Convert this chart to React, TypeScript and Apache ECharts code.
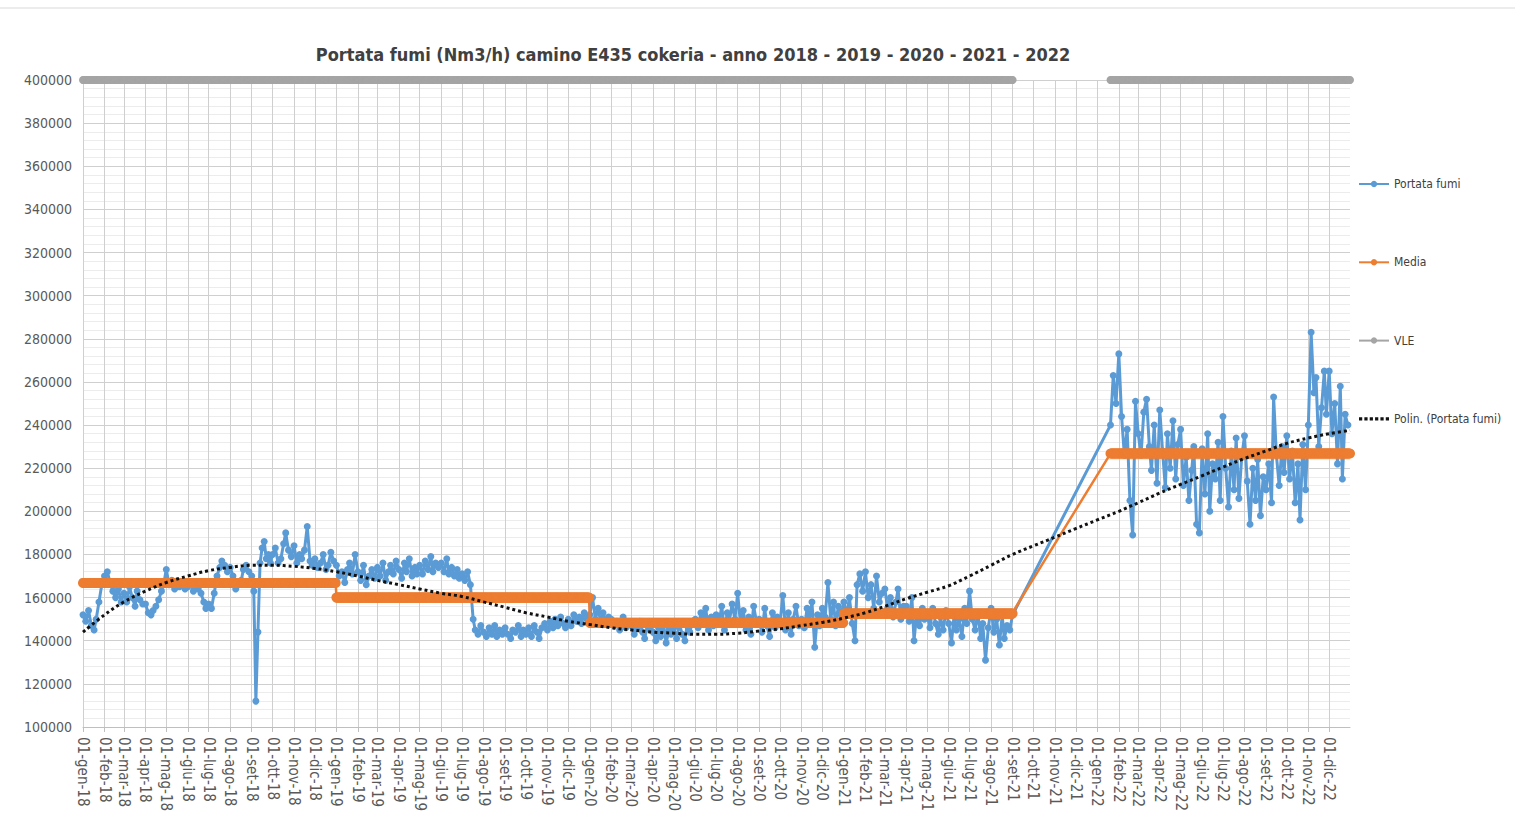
import React, { useEffect, useRef } from "react";
import * as echarts from "echarts";

const FONT = '"Liberation Sans Narrow", "DejaVu Sans Condensed", "Liberation Sans", Arial, sans-serif';
const MONTHS_IT = ["gen", "feb", "mar", "apr", "mag", "giu", "lug", "ago", "set", "ott", "nov", "dic"];
const START = Date.UTC(2018, 0, 1);
const END = Date.UTC(2022, 11, 31);
const DAY = 86400000;

const TITLE = "Portata fumi (Nm3/h) camino E435 cokeria - anno 2018 - 2019 - 2020 - 2021 - 2022";

// Portata fumi, thousands of Nm3/h, samples spread evenly through each month (Jan..Dec)
const portata2018: (number | null)[][] = [
  [152, 149, 154, 147, 145, 150, 158, 166],
  [170, 172, 167, 163, 160, 164, 158],
  [162, 158, 165, 160, 156, 163, 159, 157],
  [157, 153, 152, 154, 156, 159, 163, 166],
  [173, 166, 168, 164, 166, 165, 167, 164],
  [165, 167, 163, 166, 164, 162, 158, 155],
  [157, 155, 162, 170, 174, 177, 175, 172],
  [174, 170, 164, 166, 168, 173, 175, 172],
  [170, 163, 112, 144, 176, 183, 186, 178, 180, 176],
  [180, 183, 176, 178, 185, 190, 182, 179],
  [184, 176, 180, 178, 182, 193, 177, 175],
  [178, 174, 176, 180, 173, 175, 181, 177],
];
const portata2019: (number | null)[][] = [
  [175, 170, 172, 167, 173, 176, 171, 180],
  [172, 168, 175, 166, 170, 173, 169],
  [174, 170, 176, 168, 172, 175, 171, 177],
  [173, 169, 176, 172, 178, 170, 174, 171],
  [175, 171, 177, 173, 179, 172, 176, 174],
  [176, 172, 178, 171, 174, 170, 173, 169],
  [171, 168, 172, 166, 150, 145, 143, 147],
  [144, 142, 146, 143, 147, 142, 145, 143],
  [146, 143, 141, 145, 144, 147, 142, 145],
  [143, 146, 142, 147, 144, 141, 146, 148],
  [145, 149, 146, 150, 147, 151, 148, 146],
  [150, 147, 152, 149, 151, 148, 153, 150],
];
const portata2020: (number | null)[][] = [
  [152, 160, 150, 155, 148, 153, 149, 151],
  [150, 147, 149, 145, 151, 146, 148],
  [147, 143, 146, 149, 144, 141, 147, 145],
  [144, 140, 146, 142, 148, 139, 145, 143],
  [146, 141, 148, 143, 140, 147, 144, 149],
  [150, 146, 153, 148, 155, 145, 151, 147],
  [152, 148, 156, 145, 153, 149, 157, 150],
  [162, 148, 154, 145, 151, 143, 156, 149],
  [150, 144, 155, 147, 142, 153, 146, 151],
  [148, 161, 145, 153, 143, 150, 156, 147],
  [150, 146, 155, 149, 158, 137, 152, 147],
  [155, 151, 167, 150, 158, 147, 156, 152],
];
const portata2021: (number | null)[][] = [
  [158, 152, 160, 148, 140, 166, 171, 163],
  [172, 160, 166, 155, 170, 158, 162],
  [164, 155, 160, 151, 158, 164, 150, 156],
  [156, 149, 160, 140, 153, 147, 155, 150],
  [152, 146, 155, 148, 143, 151, 145, 154],
  [148, 139, 153, 145, 150, 142, 155, 148],
  [163, 150, 145, 153, 141, 148, 131, 146],
  [155, 144, 150, 138, 152, 141, 147, 145],
  [152],
  [],
  [],
  [],
];
const portata2022: (number | null)[][] = [
  [null, null, null, null, null, 240, 263, 250],
  [273, 244, 226, 238, 205, 189, 251],
  [236, 226, 246, 252, 230, 219, 240, 213],
  [247, 228, 211, 236, 220, 242, 215, 231],
  [238, 212, 225, 205, 219, 230, 194, 190],
  [229, 208, 236, 200, 222, 215, 232, 205],
  [244, 220, 202, 228, 210, 234, 206, 225],
  [235, 214, 194, 220, 205, 224, 198, 216],
  [210, 222, 204, 253, 226, 212, 230, 218],
  [235, 215, 228, 204, 222, 196, 231, 210],
  [240, 283, 255, 262, 230, 248, 265, 245],
  [265, 236, 250, 222, 258, 215, 245, 240],
];
const portataYears: [number, (number | null)[][]][] = [
  [2018, portata2018],
  [2019, portata2019],
  [2020, portata2020],
  [2021, portata2021],
  [2022, portata2022],
];

// Media (yearly mean), Nm3/h, one value per day of each period
const mediaStart = ["2018-01-01", "2019-01-01", "2020-01-01", "2021-01-01", "2022-01-20"];
const mediaEnd = ["2018-12-31", "2019-12-31", "2020-12-31", "2021-09-01", "2022-12-31"];
const mediaValues = [166800, 160000, 148300, 152600, 226800];

// VLE (limit value), Nm3/h, one value per day of each period
const vleStart = ["2018-01-01", "2022-01-20"];
const vleEnd = ["2021-09-01", "2022-12-31"];
const vleValues = [400000, 400000];

// Polynomial trendline (read at the start of each month, plus year end 2022)
const trendValues = [
  144000, 152000, 158000, 163000, 167000, 170000, 172500, 174000, 175000, 175000, 174500, 173500,
  172000, 170000, 168000, 166000, 164000, 162000, 160500, 158000, 155500, 153000, 151000, 149000,
  147500, 146000, 145000, 144000, 143500, 143000, 143000, 143500, 144500, 145500, 147000, 148500,
  150500, 153000, 156000, 159500, 162500, 165500, 170000, 175000, 180000, 184000, 188000, 192000,
  196000, 200000, 204000, 208500, 212500, 216500, 220500, 224500, 228000, 231500, 234000, 236000,
  237500,
];

const Y_MIN = 100000;
const Y_MAX = 400000;
const Y_STEP = 20000;

function idx(y: number, m: number, d: number) {
  return Math.round((Date.UTC(y, m, d) - START) / DAY);
}
function parseIdx(s: string) {
  const [y, m, d] = s.split("-").map(Number);
  return idx(y, m - 1, d);
}

const categories: string[] = [];
for (let t = START; t <= END; t += DAY) {
  const dt = new Date(t);
  categories.push(
    `${String(dt.getUTCDate()).padStart(2, "0")}-${MONTHS_IT[dt.getUTCMonth()]}-${String(dt.getUTCFullYear()).slice(2)}`
  );
}

function buildPortata() {
  const out: [number, number][] = [];
  for (const [year, months] of portataYears) {
    months.forEach((arr, m) => {
      const dim = new Date(Date.UTC(year, m + 1, 0)).getUTCDate();
      const n = arr.length;
      arr.forEach((v, i) => {
        if (v == null) return;
        const day = 1 + Math.round((i * dim) / n);
        out.push([idx(year, m, day), v * 1000]);
      });
    });
  }
  return out;
}

function buildDaily(starts: string[], ends: string[], values: number[], breakGaps: boolean) {
  const out: [number, number | null][] = [];
  starts.forEach((s, k) => {
    const a = parseIdx(s);
    const b = parseIdx(ends[k]);
    if (k > 0 && breakGaps) out.push([a - 1, null]);
    for (let i = a; i <= b; i++) out.push([i, values[k]]);
  });
  return out;
}

function buildTrend() {
  return trendValues.map((v, i) => {
    if (i === 60) return [categories.length - 1, v];
    const y = 2018 + Math.floor(i / 12);
    return [idx(y, i % 12, 1), v];
  });
}

const isMonthStart = (_i: number, v: string) => typeof v === "string" && v.startsWith("01-");

const DOTS_ICON = "path://M0,0h3v3h-3zM5,0h3v3h-3zM10,0h3v3h-3zM15,0h3v3h-3zM20,0h3v3h-3zM25,0h3v3h-3z";

export default function App() {
  const ref = useRef<HTMLDivElement>(null);
  useEffect(() => {
    if (!ref.current) return;
    const chart = echarts.init(ref.current, undefined, { renderer: "svg" });
    const option: any = {
      animation: false,
      backgroundColor: "#ffffff",
      title: {
        text: TITLE,
        left: 688,
        top: 40,
        textAlign: "center",
        textStyle: { fontFamily: FONT, fontSize: 18, fontWeight: "bold", color: "#404040" },
      },
      graphic: [
        {
          type: "line",
          shape: { x1: 0, y1: 8, x2: 1515, y2: 8 },
          style: { stroke: "#d9d9d9", lineWidth: 1 },
        },
      ],
      legend: {
        orient: "vertical",
        left: 1353,
        top: 173,
        itemGap: 66.3,
        itemWidth: 30,
        itemHeight: 8,
        textStyle: { fontFamily: FONT, fontSize: 12, color: "#404040" },
        data: [
          { name: "Portata fumi" },
          { name: "Media" },
          { name: "VLE" },
          { name: "Polin. (Portata fumi)", icon: DOTS_ICON },
        ],
      },
      grid: { left: 83, right: 169, top: 80, bottom: 105, containLabel: false },
      xAxis: {
        type: "category",
        data: categories,
        boundaryGap: false,
        axisLine: { show: true, lineStyle: { color: "#bfbfbf" } },
        axisTick: { show: true, interval: isMonthStart, length: 5, lineStyle: { color: "#bfbfbf" } },
        axisLabel: {
          interval: isMonthStart,
          rotate: -90,
          margin: 10,
          fontFamily: FONT,
          fontSize: 15,
          color: "#595959",
        },
        splitLine: { show: true, interval: isMonthStart, lineStyle: { color: "#cfcfcf", width: 1 } },
      },
      yAxis: {
        type: "value",
        min: Y_MIN,
        max: Y_MAX,
        interval: Y_STEP,
        axisLine: { show: false },
        axisTick: { show: false },
        axisLabel: {
          fontFamily: FONT,
          fontSize: 14,
          color: "#595959",
          margin: 11,
          formatter: (v: number) => String(v),
        },
        splitLine: { show: true, lineStyle: { color: "#cfcfcf", width: 1 } },
        minorTick: { show: false, splitNumber: 5 },
        minorSplitLine: { show: true, lineStyle: { color: "#ececec", width: 1 } },
      },
      series: [
        {
          name: "Portata fumi",
          type: "line",
          data: buildPortata(),
          symbol: "circle",
          symbolSize: 7,
          showSymbol: true,
          showAllSymbol: true,
          color: "#5b9bd5",
          lineStyle: { width: 3, color: "#5b9bd5" },
          itemStyle: { color: "#5b9bd5" },
          z: 2,
        },
        {
          name: "Media",
          type: "line",
          data: buildDaily(mediaStart, mediaEnd, mediaValues, false),
          symbol: "circle",
          symbolSize: 10,
          showSymbol: true,
          showAllSymbol: true,
          color: "#ed7d31",
          lineStyle: { width: 2.5, color: "#ed7d31" },
          itemStyle: { color: "#ed7d31" },
          z: 3,
        },
        {
          name: "VLE",
          type: "line",
          data: buildDaily(vleStart, vleEnd, vleValues, true),
          symbol: "circle",
          symbolSize: 8,
          showSymbol: true,
          showAllSymbol: true,
          connectNulls: false,
          clip: false,
          color: "#a5a5a5",
          lineStyle: { width: 2.5, color: "#a5a5a5" },
          itemStyle: { color: "#a5a5a5" },
          z: 3,
        },
        {
          name: "Polin. (Portata fumi)",
          type: "line",
          data: buildTrend(),
          symbol: "none",
          smooth: 0.4,
          color: "#000000",
          lineStyle: { width: 3, color: "#111111", type: [3, 3] },
          itemStyle: { color: "#111111" },
          z: 4,
        },
      ],
    };
    chart.setOption(option);
    return () => chart.dispose();
  }, []);
  return <div ref={ref} style={{ position: "absolute", left: 0, top: 0, width: 1519, height: 832 }} />;
}
